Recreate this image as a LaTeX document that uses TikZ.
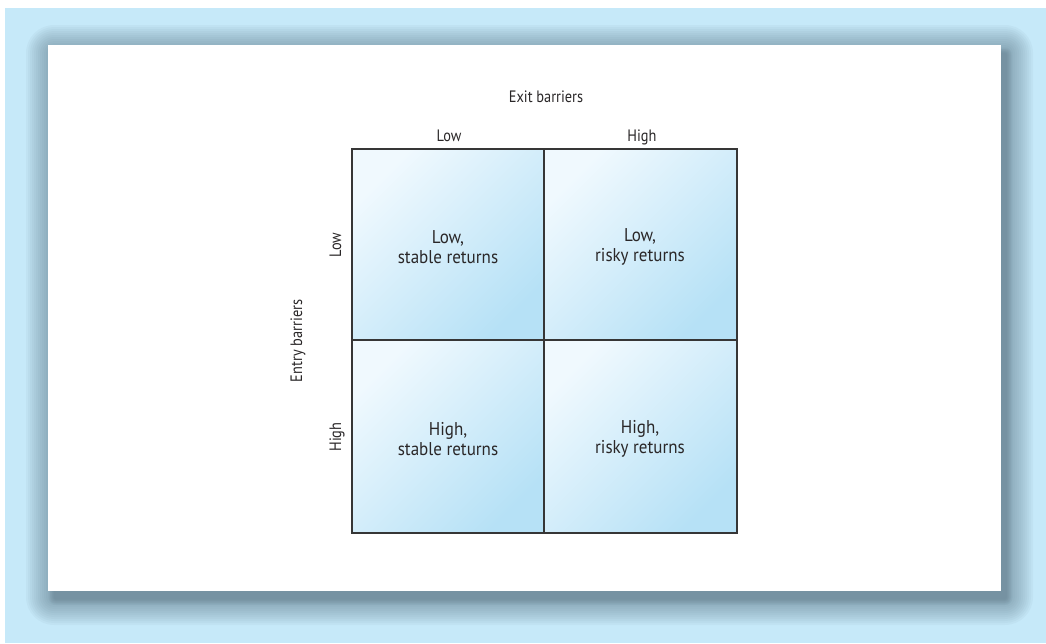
\documentclass[tikz,border=0pt]{standalone}
\usepackage{fontspec}
\setmainfont{PT Sans}
\newfontfamily\axisfont{PT Sans}[FakeStretch=0.87]
\newfontfamily\cellfont{PT Sans}[FakeStretch=0.92]
\definecolor{bgblue}{HTML}{C6E9F9}
\definecolor{shadowc}{HTML}{56707F}
\definecolor{celllight}{HTML}{F0F9FE}
\definecolor{celldark}{HTML}{B6E1F6}
\definecolor{gridc}{HTML}{363636}
\definecolor{txt}{HTML}{2A2728}
\tikzset{
  cellbox/.style={top color=celllight, bottom color=celldark, shading angle=45},
  gridline/.style={draw=gridc, line width=1.3pt},
  axislabel/.style={text=txt, font=\axisfont\fontsize{16.5}{18}\selectfont, inner sep=0pt},
  celltext/.style={text=txt, font=\cellfont\fontsize{18.5}{20}\selectfont, align=center, inner sep=0pt},
}
\begin{document}
\begin{tikzpicture}[x=1pt,y=-1pt]
\useasboundingbox (0,0) rectangle (1046,643);
\fill[white] (0,0) rectangle (1046,643);
\fill[bgblue] (5,8) rectangle (1046,643);
% shadow
\foreach \e in {0,2,...,26}{
  \fill[shadowc, opacity=0.05, rounded corners=\e pt+2pt] (48+4-\e,45+6-\e) rectangle (1001+6+\e,591+8+\e);
}
\foreach \e in {0,1,...,5}{
  \fill[shadowc, opacity=0.06, rounded corners=\e pt+2pt] (48+6-\e,45+8-\e) rectangle (1001+6+\e,591+9+\e);
}
\fill[white] (48,45) rectangle (1001,591);
% cells
\shade[cellbox] (352,149) rectangle (544,340);
\shade[cellbox] (544,149) rectangle (737,340);
\shade[cellbox] (352,340) rectangle (544,533);
\shade[cellbox] (544,340) rectangle (737,533);
\coordinate (tl) at (352,149);
\coordinate (tr) at (737,149);
\coordinate (bl) at (352,533);
\coordinate (br) at (737,533);
\coordinate (tm) at (544,149);
\coordinate (bm) at (544,533);
\coordinate (ml) at (352,340);
\coordinate (mr) at (737,340);
\draw[gridline] (tl) rectangle (br);
\draw[gridline] (tm) -- (bm);
\draw[gridline] (ml) -- (mr);
% labels
\node[axislabel, anchor=base] (exit) at (546,102) {Exit barriers};
\node[axislabel, anchor=base] (elow) at (449,141) {Low};
\node[axislabel, anchor=base] (ehigh) at (642,141) {High};
\node[axislabel, anchor=base, rotate=90] (entry) at (302,341) {Entry barriers};
\node[axislabel, anchor=base, rotate=90] (nlow) at (341,245) {Low};
\node[axislabel, anchor=base, rotate=90] (nhigh) at (341,437) {High};
% cell texts
\node[celltext] (c11) at (448,247) {Low,\\stable returns};
\node[celltext] (c12) at (640,247) {Low,\\risky returns};
\node[celltext] (c21) at (448,439) {High,\\stable returns};
\node[celltext] (c22) at (640,439) {High,\\risky returns};
\end{tikzpicture}
\end{document}
